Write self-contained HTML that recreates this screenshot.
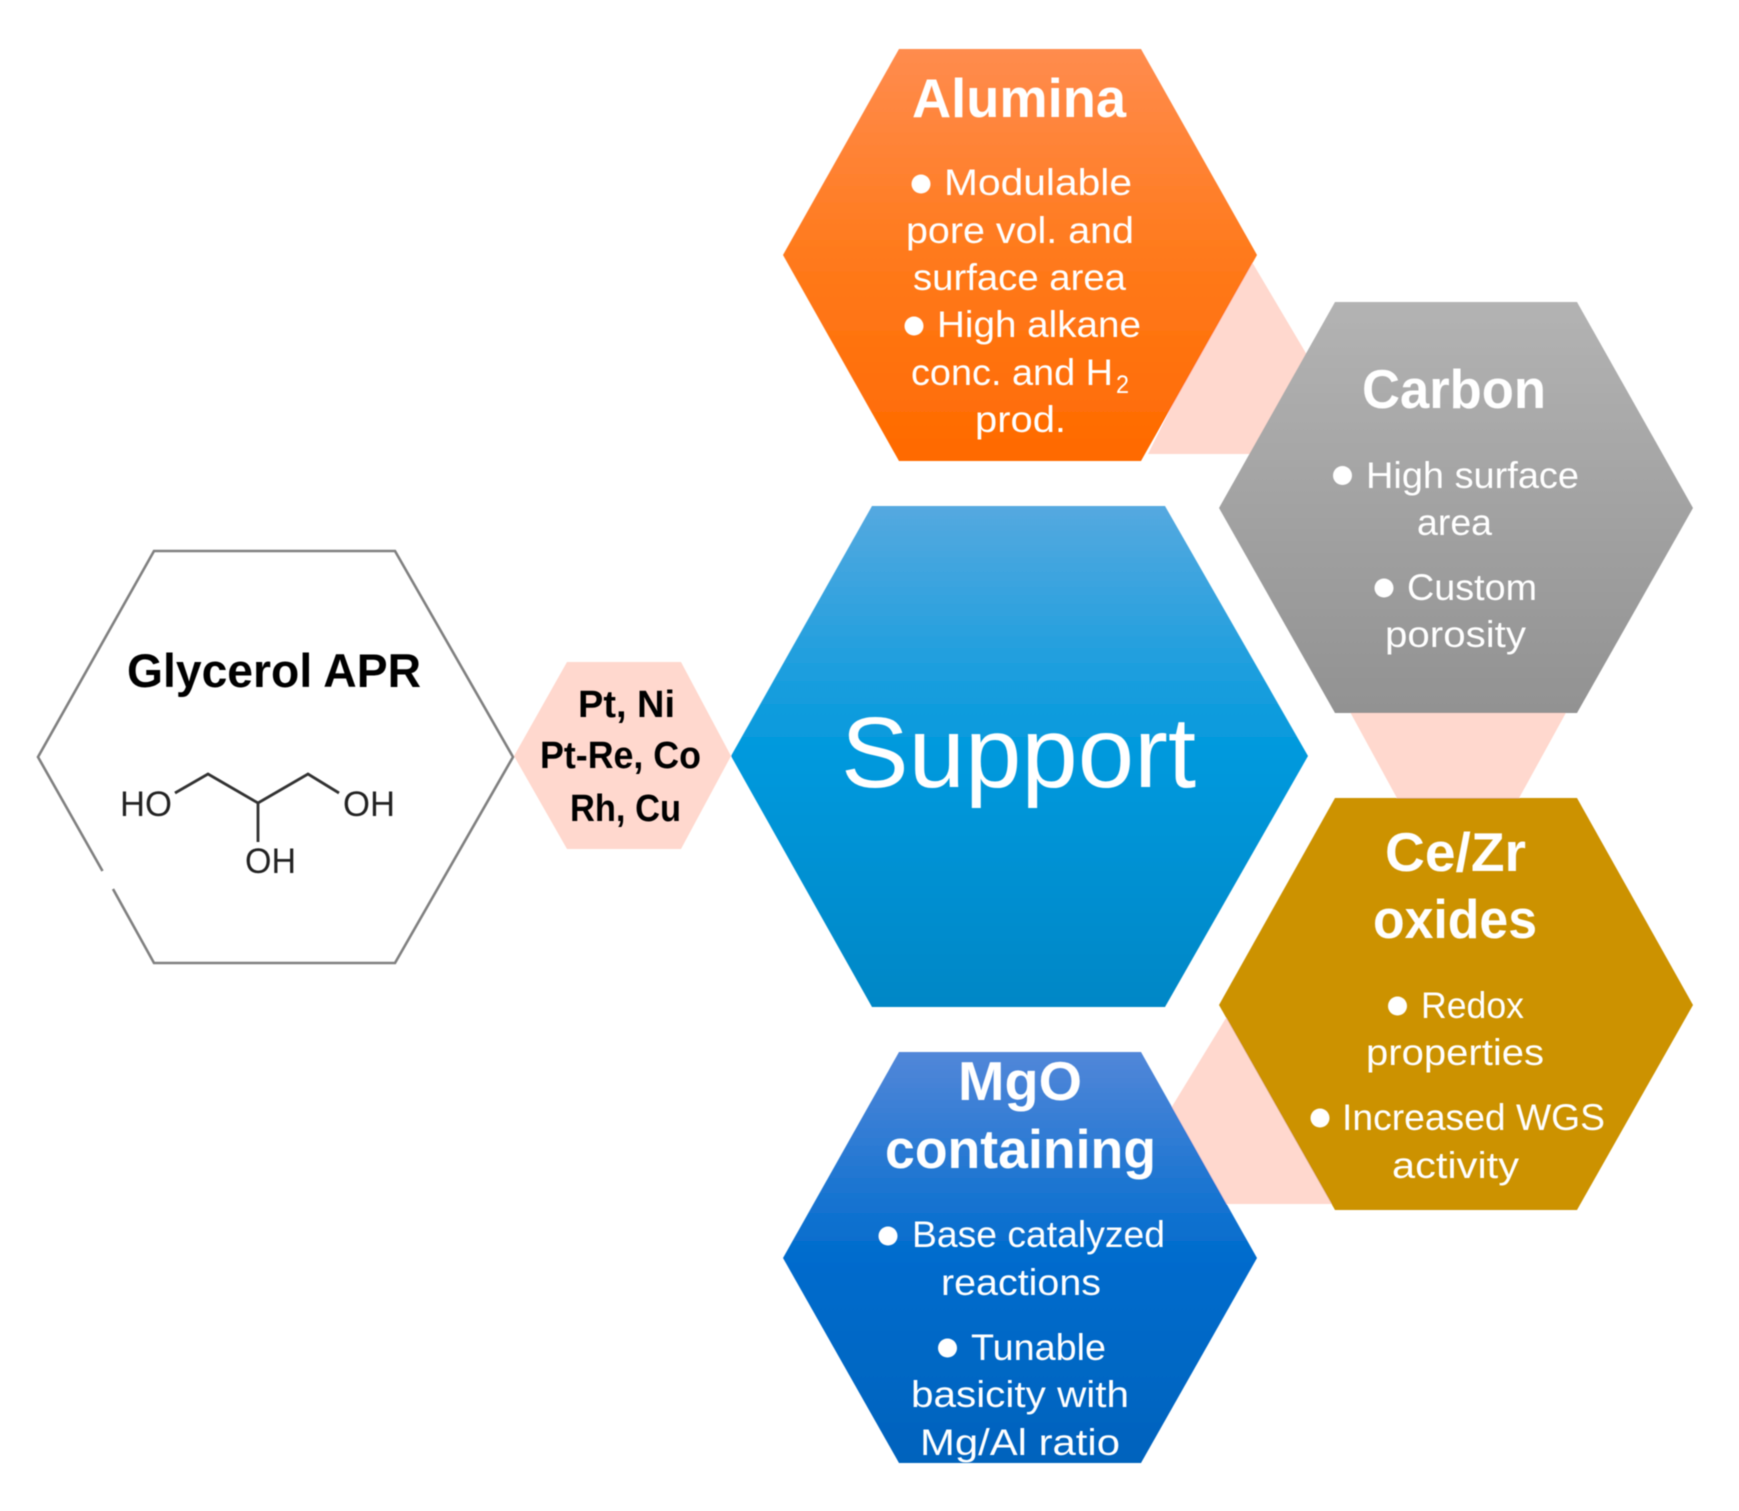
<!DOCTYPE html>
<html><head><meta charset="utf-8"><style>html,body{margin:0;padding:0;background:#fff}svg{display:block}
text{font-family:"Liberation Sans",sans-serif;fill:#fff}
.t{font-size:55px;font-weight:bold}.b{font-size:37px}.k{fill:#000}.p{font-size:38px;font-weight:bold}.m{font-size:35px;fill:#222}</style></head><body>
<svg width="1739" height="1511" viewBox="0 0 1739 1511" xmlns="http://www.w3.org/2000/svg">
<defs>
<linearGradient id="a" x1="0" y1="0" x2="0" y2="1"><stop offset="0" stop-color="#ff8c4e"/><stop offset=".5" stop-color="#ff7a1c"/><stop offset="1" stop-color="#ff6a00"/></linearGradient>
<linearGradient id="c" x1="0" y1="0" x2="0" y2="1"><stop offset="0" stop-color="#b3b3b3"/><stop offset="1" stop-color="#929292"/></linearGradient>
<linearGradient id="s" x1="0" y1="0" x2="0" y2="1"><stop offset="0" stop-color="#55a9e0"/><stop offset=".5" stop-color="#0099dd"/><stop offset="1" stop-color="#0487c6"/></linearGradient>
<linearGradient id="g" x1="0" y1="0" x2="0" y2="1"><stop offset="0" stop-color="#5287d9"/><stop offset=".5" stop-color="#006ccd"/><stop offset="1" stop-color="#0463bd"/></linearGradient>
<filter id="bl" x="-2%" y="-2%" width="104%" height="104%"><feGaussianBlur stdDeviation="0.6"/></filter>
<filter id="bs" x="-2%" y="-2%" width="104%" height="104%"><feGaussianBlur stdDeviation="0.5"/></filter>
</defs>
<rect width="1739" height="1511" fill="#fff"/>
<g filter="url(#bs)">
<g fill="#ffd8ce">
<polygon points="1252,262 1310,360 1270,454 1148,454 1200,350"/>
<polygon points="1343.500,700 1573,700 1518,800 1398,800"/>
<polygon points="1226,1018 1165,1118 1215,1204 1340,1204 1300,1100"/>
<polygon points="514,756 567,662 681,662 731,756 681,849 567,849"/>
</g>
<polygon points="783,255 899,49 1141,49 1257,255 1141,461 899,461" fill="url(#a)"/>
<polygon points="1219,508 1335,302 1577,302 1693,508 1577,713 1335,713" fill="url(#c)"/>
<polygon points="731,756 872,506 1165,506 1308,756 1165,1007 872,1007" fill="url(#s)"/>
<polygon points="1219,1005 1335,798 1577,798 1693,1005 1577,1210 1335,1210" fill="#cc9200"/>
<polygon points="783,1258 899,1052 1141,1052 1257,1258 1141,1463 899,1463" fill="url(#g)"/>
<path d="M102.500,871 L38,757 L154,551 L395,551 L513,757 L395,963 L154,963 L113,889" fill="none" stroke="#808080" stroke-width="2.600"/>
<g fill="none" stroke="#333" stroke-width="2.800"><path d="M175,793 L208,774 L258,803 L308,774 L339,793"/><path d="M258,803 L258,842"/></g>
</g>
<g filter="url(#bl)">
<text class="t k" x="127" y="687" style="font-size:47px" textLength="294" lengthAdjust="spacingAndGlyphs">Glycerol APR</text>
<text class="m" x="120" y="816" textLength="52" lengthAdjust="spacingAndGlyphs">HO</text>
<text class="m" x="343" y="816" textLength="52" lengthAdjust="spacingAndGlyphs">OH</text>
<text class="m" x="245" y="873" textLength="51" lengthAdjust="spacingAndGlyphs">OH</text>
<text class="p k" x="578" y="717" textLength="97" lengthAdjust="spacingAndGlyphs">Pt, Ni</text>
<text class="p k" x="540" y="768" textLength="161" lengthAdjust="spacingAndGlyphs">Pt-Re, Co</text>
<text class="p k" x="570" y="821" textLength="111" lengthAdjust="spacingAndGlyphs">Rh, Cu</text>
<text x="841" y="787" style="font-size:100px" textLength="355" lengthAdjust="spacingAndGlyphs">Support</text>

<text class="t" x="912" y="117" textLength="214" lengthAdjust="spacingAndGlyphs">Alumina</text>
<circle cx="921" cy="184" r="9.500" fill="#fff"/>
<text class="b" x="944" y="195" textLength="188" lengthAdjust="spacingAndGlyphs">Modulable</text>
<text class="b" x="906" y="243" textLength="228" lengthAdjust="spacingAndGlyphs">pore vol. and</text>
<text class="b" x="913" y="290" textLength="213" lengthAdjust="spacingAndGlyphs">surface area</text>
<circle cx="914" cy="326" r="9.500" fill="#fff"/>
<text class="b" x="937" y="337" textLength="204" lengthAdjust="spacingAndGlyphs">High alkane</text>
<text class="b" x="911" y="385" textLength="202" lengthAdjust="spacingAndGlyphs">conc. and H</text>
<text x="1116" y="393" style="font-size:25px" textLength="13" lengthAdjust="spacingAndGlyphs">2</text>
<text class="b" x="975" y="432" textLength="91" lengthAdjust="spacingAndGlyphs">prod.</text>

<text class="t" x="1362" y="408" textLength="184" lengthAdjust="spacingAndGlyphs">Carbon</text>
<circle cx="1342.500" cy="475.500" r="9.500" fill="#fff"/>
<text class="b" x="1366" y="488" textLength="213" lengthAdjust="spacingAndGlyphs">High surface</text>
<text class="b" x="1417" y="535" textLength="75" lengthAdjust="spacingAndGlyphs">area</text>
<circle cx="1384" cy="588" r="9.500" fill="#fff"/>
<text class="b" x="1407" y="600" textLength="130" lengthAdjust="spacingAndGlyphs">Custom</text>
<text class="b" x="1385" y="647" textLength="141" lengthAdjust="spacingAndGlyphs">porosity</text>

<text class="t" x="1385" y="871" textLength="141" lengthAdjust="spacingAndGlyphs">Ce/Zr</text>
<text class="t" x="1373" y="938" textLength="164" lengthAdjust="spacingAndGlyphs">oxides</text>
<circle cx="1397.500" cy="1006" r="9.500" fill="#fff"/>
<text class="b" x="1421" y="1018" textLength="103" lengthAdjust="spacingAndGlyphs">Redox</text>
<text class="b" x="1366" y="1065" textLength="178" lengthAdjust="spacingAndGlyphs">properties</text>
<circle cx="1320" cy="1118" r="9.500" fill="#fff"/>
<text class="b" x="1342" y="1130" textLength="263" lengthAdjust="spacingAndGlyphs">Increased WGS</text>
<text class="b" x="1392" y="1178" textLength="127" lengthAdjust="spacingAndGlyphs">activity</text>

<text class="t" x="958" y="1100" textLength="124" lengthAdjust="spacingAndGlyphs">MgO</text>
<text class="t" x="885" y="1168" textLength="271" lengthAdjust="spacingAndGlyphs">containing</text>
<circle cx="888" cy="1236" r="9.500" fill="#fff"/>
<text class="b" x="912" y="1247" textLength="253" lengthAdjust="spacingAndGlyphs">Base catalyzed</text>
<text class="b" x="941" y="1295" textLength="160" lengthAdjust="spacingAndGlyphs">reactions</text>
<circle cx="947.500" cy="1348" r="9.500" fill="#fff"/>
<text class="b" x="971" y="1360" textLength="135" lengthAdjust="spacingAndGlyphs">Tunable</text>
<text class="b" x="911" y="1407" textLength="218" lengthAdjust="spacingAndGlyphs">basicity with</text>
<text class="b" x="920" y="1455" textLength="200" lengthAdjust="spacingAndGlyphs">Mg/Al ratio</text>
</g>
</svg>
</body></html>
